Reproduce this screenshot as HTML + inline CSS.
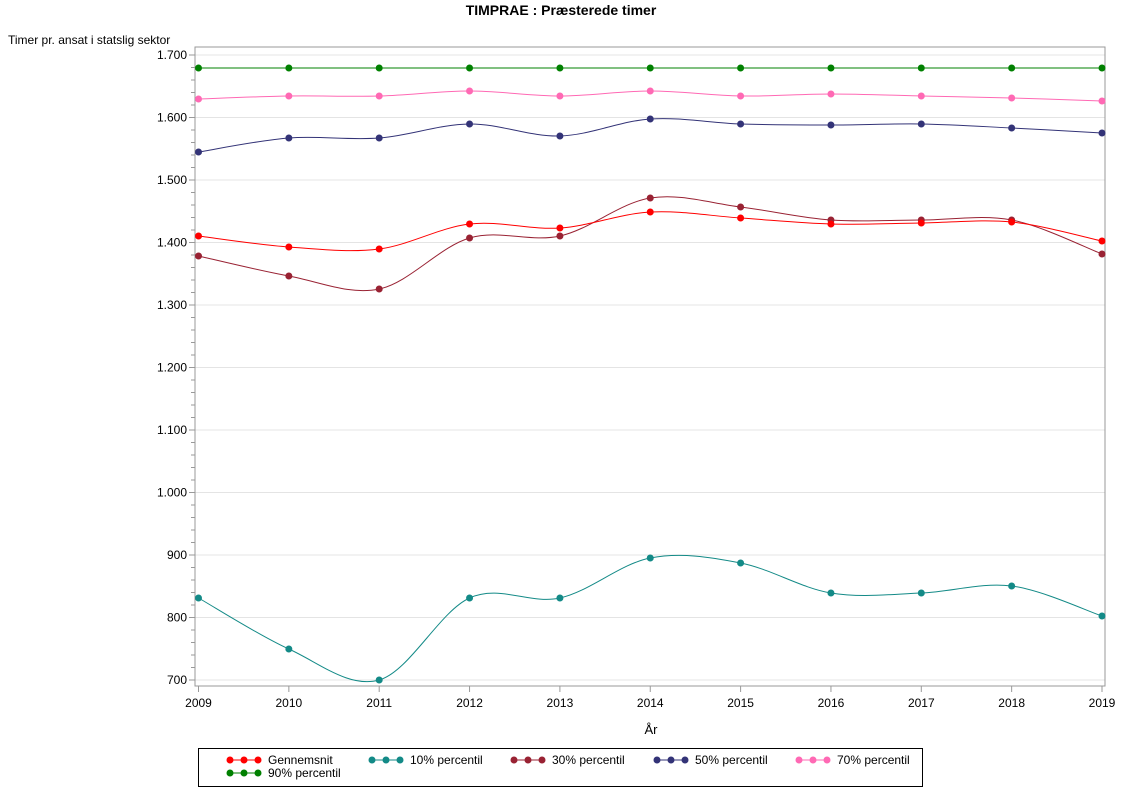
<!DOCTYPE html>
<html><head><meta charset="utf-8"><style>
body{margin:0;background:#fff;font-family:"Liberation Sans",sans-serif}
svg text{font-family:"Liberation Sans",sans-serif}
</style></head><body>
<svg id="s" width="1122" height="793" xmlns="http://www.w3.org/2000/svg">
<text x="561" y="15" text-anchor="middle" font-size="14" font-weight="bold">TIMPRAE : Præsterede timer</text>
<text x="8" y="44" font-size="12">Timer pr. ansat i statslig sektor</text>
<g id="grid"></g>
<rect x="195" y="47" width="910" height="639" fill="none" stroke="#999" stroke-width="1"/>
<g id="series"></g>
<text x="651" y="734" text-anchor="middle" font-size="13">År</text>
<rect x="198.5" y="748.5" width="724" height="38" fill="none" stroke="#000"/>
<g id="leg" font-size="12"></g>
</svg>
<script>
const NS="http://www.w3.org/2000/svg";
function el(p,t,a,txt){const e=document.createElementNS(NS,t);for(const k in a)e.setAttribute(k,a[k]);if(txt!==undefined)e.textContent=txt;p.appendChild(e);return e;}
const g=document.getElementById('grid');
const Y=v=>680-(v-700)*0.625;
for(let v=700;v<=1700;v+=20){const y=Y(v);
 if(v%100==0){el(g,'line',{x1:195,x2:1105,y1:y,y2:y,stroke:'#e4e4e4'});
  el(g,'line',{x1:189,x2:195,y1:y,y2:y,stroke:'#999'});
  const s=v>=1000?(Math.floor(v/1000)+'.'+String(v%1000).padStart(3,'0')):String(v);
  el(g,'text',{x:187,y:y+4,'text-anchor':'end','font-size':12},s);}
 else el(g,'line',{x1:191,x2:195,y1:y,y2:y,stroke:'#999'});}
const X=i=>198.5+i*90.35;
for(let i=0;i<=10;i++){el(g,'line',{x1:X(i),x2:X(i),y1:686,y2:692,stroke:'#999'});
 el(g,'text',{x:X(i),y:707,'text-anchor':'middle','font-size':12},String(2009+i));}
const S=[
 ['#008000',[68,68,68,68,68,68,68,68,68,68,68],'90% percentil'],
 ['#ff69b4',[99,96,96,91,96,91,96,94,96,98,101],'70% percentil'],
 ['#333377',[152,138,138,124,136,119,124,125,124,128,133],'50% percentil'],
 ['#992233',[256,276,289,238,236,198,207,220,220,220,254],'30% percentil'],
 ['#ff0000',[236,247,249,224,228,212,218,224,223,222,241],'Gennemsnit'],
 ['#138a87',[598,649,680,598,598,558,563,593,593,586,616],'10% percentil']];
const sg=document.getElementById('series');
S.forEach(([c,ys])=>{const p=ys.map((y,i)=>[X(i),y]);let d='M'+p[0];
 for(let i=0;i<p.length-1;i++){const p0=p[i-1]||p[i],p1=p[i],p2=p[i+1],p3=p[i+2]||p[i+1];
  const c1=[p1[0]+(p2[0]-p0[0])/6,p1[1]+(p2[1]-p0[1])/6],c2=[p2[0]-(p3[0]-p1[0])/6,p2[1]-(p3[1]-p1[1])/6];
  d+=' C'+c1+' '+c2+' '+p2;}
 el(sg,'path',{d,fill:'none',stroke:c,'stroke-width':1});
 p.forEach(q=>el(sg,'circle',{cx:q[0],cy:q[1],r:3.5,fill:c}));});
const lg=document.getElementById('leg');
const L=[['#ff0000','Gennemsnit',230,760],['#138a87','10% percentil',372,760],['#992233','30% percentil',514,760],['#333377','50% percentil',657,760],['#ff69b4','70% percentil',799,760],['#008000','90% percentil',230,773]];
L.forEach(([c,t,x,y])=>{el(lg,'line',{x1:x,x2:x+28,y1:y,y2:y,stroke:c});
 [0,14,28].forEach(o=>el(lg,'circle',{cx:x+o,cy:y,r:3.5,fill:c}));
 el(lg,'text',{x:x+38,y:y+4},t);});
</script>
</body></html>
